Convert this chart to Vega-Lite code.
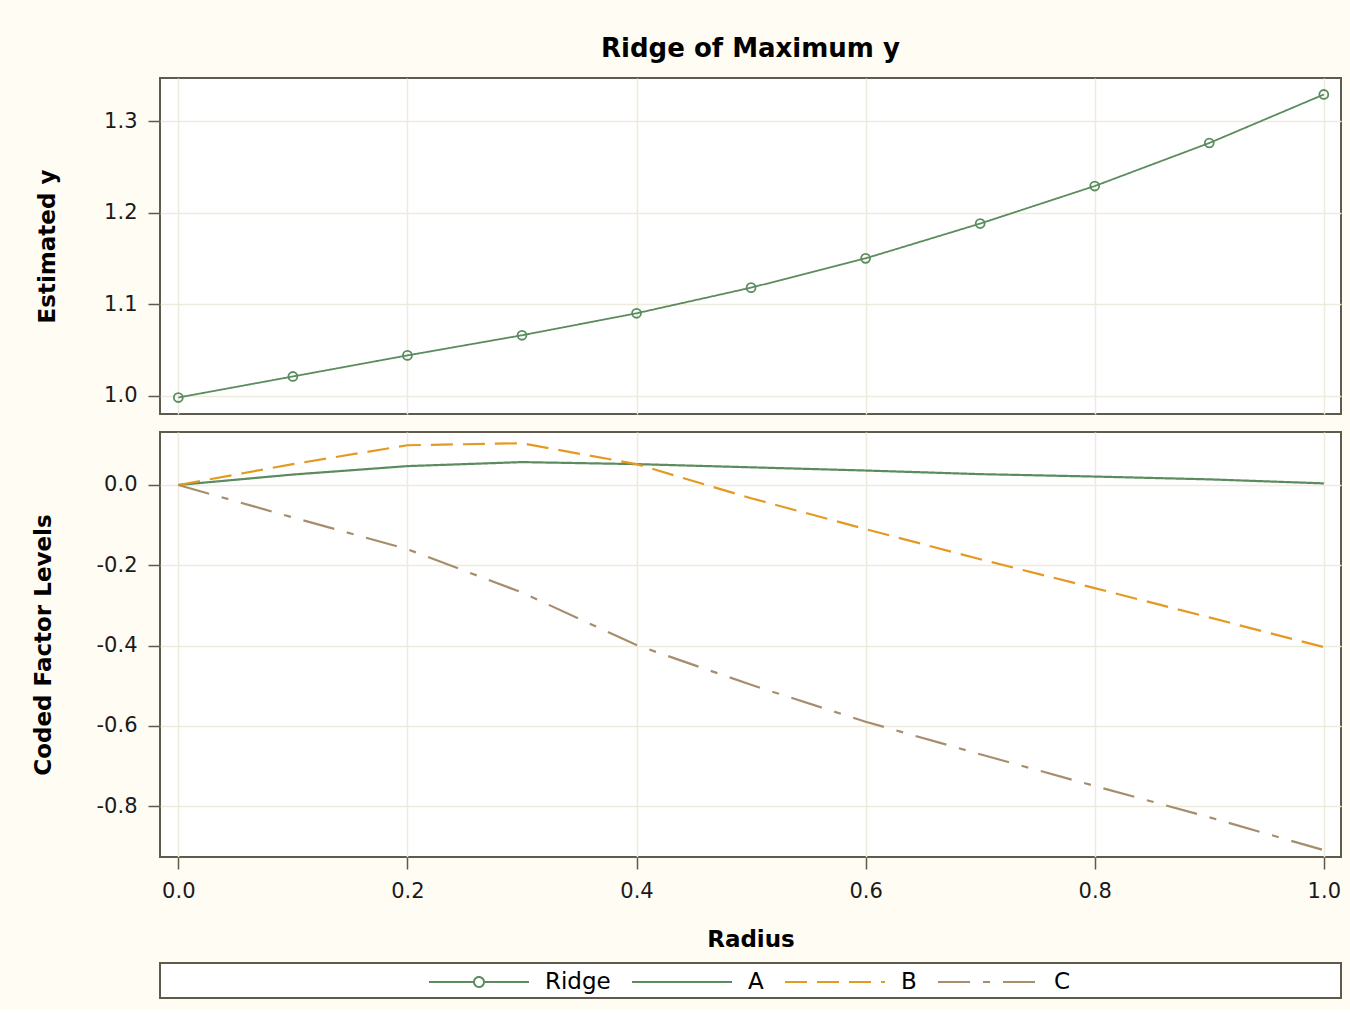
{
  "$schema": "https://vega.github.io/schema/vega-lite/v6.json",
  "background": "#fffcf4",
  "padding": {"left": 31, "top": 35, "right": 8, "bottom": 10},
  "config": {
    "font": "DejaVu Sans",
    "view": {"stroke": "#5f5b4c", "strokeWidth": 2, "fill": "white"},
    "axis": {
      "gridColor": "#edebdb", "gridWidth": 1.5, "tickColor": "#5f5b4c", "tickSize": 12, "tickWidth": 1.5,
      "labelPadding": 11, "labelFont": "DejaVu Sans", "labelFontSize": 21, "labelColor": "#1a1a1a",
      "domain": false, "titleFont": "DejaVu Sans", "titleFontSize": 23, "titleFontWeight": "bold", "titleColor": "black"
    }
  },
  "datasets": {
    "ridge": [
      {"r": 0.0, "v": 0.998, "s": "Ridge"},
      {"r": 0.1, "v": 1.021, "s": "Ridge"},
      {"r": 0.2, "v": 1.044, "s": "Ridge"},
      {"r": 0.3, "v": 1.066, "s": "Ridge"},
      {"r": 0.4, "v": 1.090, "s": "Ridge"},
      {"r": 0.5, "v": 1.118, "s": "Ridge"},
      {"r": 0.6, "v": 1.150, "s": "Ridge"},
      {"r": 0.7, "v": 1.188, "s": "Ridge"},
      {"r": 0.8, "v": 1.229, "s": "Ridge"},
      {"r": 0.9, "v": 1.276, "s": "Ridge"},
      {"r": 1.0, "v": 1.329, "s": "Ridge"}
    ],
    "levels": [
      {"r": 0.0, "v": 0.000, "s": "A"},
      {"r": 0.1, "v": 0.026, "s": "A"},
      {"r": 0.2, "v": 0.047, "s": "A"},
      {"r": 0.3, "v": 0.057, "s": "A"},
      {"r": 0.4, "v": 0.052, "s": "A"},
      {"r": 0.5, "v": 0.044, "s": "A"},
      {"r": 0.6, "v": 0.036, "s": "A"},
      {"r": 0.7, "v": 0.027, "s": "A"},
      {"r": 0.8, "v": 0.021, "s": "A"},
      {"r": 0.9, "v": 0.014, "s": "A"},
      {"r": 1.0, "v": 0.004, "s": "A"},
      {"r": 0.0, "v": 0.000, "s": "B"},
      {"r": 0.1, "v": 0.052, "s": "B"},
      {"r": 0.2, "v": 0.099, "s": "B"},
      {"r": 0.3, "v": 0.104, "s": "B"},
      {"r": 0.4, "v": 0.052, "s": "B"},
      {"r": 0.5, "v": -0.033, "s": "B"},
      {"r": 0.6, "v": -0.110, "s": "B"},
      {"r": 0.7, "v": -0.185, "s": "B"},
      {"r": 0.8, "v": -0.257, "s": "B"},
      {"r": 0.9, "v": -0.330, "s": "B"},
      {"r": 1.0, "v": -0.404, "s": "B"},
      {"r": 0.0, "v": 0.000, "s": "C"},
      {"r": 0.1, "v": -0.081, "s": "C"},
      {"r": 0.2, "v": -0.160, "s": "C"},
      {"r": 0.3, "v": -0.268, "s": "C"},
      {"r": 0.4, "v": -0.399, "s": "C"},
      {"r": 0.5, "v": -0.498, "s": "C"},
      {"r": 0.6, "v": -0.590, "s": "C"},
      {"r": 0.7, "v": -0.671, "s": "C"},
      {"r": 0.8, "v": -0.750, "s": "C"},
      {"r": 0.9, "v": -0.828, "s": "C"},
      {"r": 1.0, "v": -0.910, "s": "C"}
    ]
  },
  "spacing": 10,
  "resolve": {"scale": {"color": "shared", "strokeDash": "shared", "x": "independent", "y": "independent"}},
  "vconcat": [
    {
      "spacing": 16,
      "resolve": {"scale": {"color": "shared", "strokeDash": "shared", "x": "independent", "y": "independent"}},
      "vconcat": [
        {
          "width": 1181,
          "height": 336,
          "title": {"text": "Ridge of Maximum y", "fontSize": 26, "fontWeight": "bold", "font": "DejaVu Sans", "color": "black", "anchor": "middle", "frame": "group", "offset": 16},
          "data": {"name": "ridge"},
          "encoding": {
            "x": {"field": "r", "type": "quantitative", "scale": {"domain": [-0.016, 1.015], "nice": false, "zero": false},
                  "axis": {"values": [0, 0.2, 0.4, 0.6, 0.8, 1], "labels": false, "ticks": false, "title": null}},
            "y": {"field": "v", "type": "quantitative", "scale": {"domain": [0.98, 1.347], "nice": false, "zero": false},
                  "axis": {"values": [1.0, 1.1, 1.2, 1.3], "format": ".1f", "title": "Estimated y", "titlePadding": 44}}
          },
          "layer": [
            {
              "mark": {"type": "line", "strokeWidth": 1.8},
              "encoding": {
                "color": {"field": "s", "type": "nominal",
                  "scale": {"domain": ["Ridge", "A", "B", "C"], "range": ["#5b8c5e", "#5b8c5e", "#e49a20", "#a68e6c"]},
                  "legend": {"title": null, "orient": "none", "legendX": 268, "legendY": 853, "direction": "horizontal",
                    "symbolType": "stroke", "symbolSize": 10000, "symbolStrokeWidth": 2, "labelFontSize": 23, "labelFont": "DejaVu Sans",
                    "labelColor": "black", "labelOffset": 15, "columnPadding": 17, "padding": 0,
                    "encode": {"symbols": {"update": {"shape": {"signal": "datum.value === 'Ridge' ? 'M-1,0H-0.1M0.1,0H1M-0.1,0A0.1,0.1,0,1,1,0.1,0A0.1,0.1,0,1,1,-0.1,0' : 'stroke'"}, "fill": {"value": "white"}}}}}},
                "strokeDash": {"field": "s", "type": "nominal",
                  "scale": {"domain": ["Ridge", "A", "B", "C"], "range": [[1, 0], [1, 0], [22, 10], [32, 13, 7, 13]]},
                  "legend": {"title": null, "orient": "none", "legendX": 268, "legendY": 853, "direction": "horizontal",
                    "symbolType": "stroke", "symbolSize": 10000, "symbolStrokeWidth": 2, "labelFontSize": 23, "labelFont": "DejaVu Sans",
                    "labelColor": "black", "labelOffset": 15, "columnPadding": 17, "padding": 0}}
              }
            },
            {
              "mark": {"type": "point", "filled": false, "size": 80, "strokeWidth": 1.8, "color": "#5b8c5e", "opacity": 1}
            }
          ]
        },
        {
          "width": 1181,
          "height": 425,
          "data": {"name": "levels"},
          "mark": {"type": "line", "strokeWidth": 2.2},
          "encoding": {
            "x": {"field": "r", "type": "quantitative", "scale": {"domain": [-0.016, 1.015], "nice": false, "zero": false},
                  "axis": {"values": [0, 0.2, 0.4, 0.6, 0.8, 1], "format": ".1f", "title": "Radius", "titlePadding": 27}},
            "y": {"field": "v", "type": "quantitative", "scale": {"domain": [-0.927, 0.132], "nice": false, "zero": false},
                  "axis": {"values": [0, -0.2, -0.4, -0.6, -0.8], "format": ".1f", "labelExpr": "replace(datum.label, '\u2212', '-')", "title": "Coded Factor Levels", "titlePadding": 41}},
            "color": {"field": "s", "type": "nominal",
              "scale": {"domain": ["Ridge", "A", "B", "C"], "range": ["#5b8c5e", "#5b8c5e", "#e49a20", "#a68e6c"]}},
            "strokeDash": {"field": "s", "type": "nominal",
              "scale": {"domain": ["Ridge", "A", "B", "C"], "range": [[1, 0], [1, 0], [22, 10], [32, 13, 7, 13]]}}
          }
        }
      ]
    },
    {
      "width": 1181,
      "height": 35,
      "view": {"stroke": "#5f5b4c", "strokeWidth": 2, "fill": "white"},
      "data": {"values": [{"t": ""}]},
      "mark": {"type": "text"},
      "encoding": {
        "x": {"datum": 0.5, "type": "quantitative", "scale": {"domain": [0, 1]}, "axis": null},
        "text": {"field": "t", "type": "nominal"}
      }
    }
  ]
}
